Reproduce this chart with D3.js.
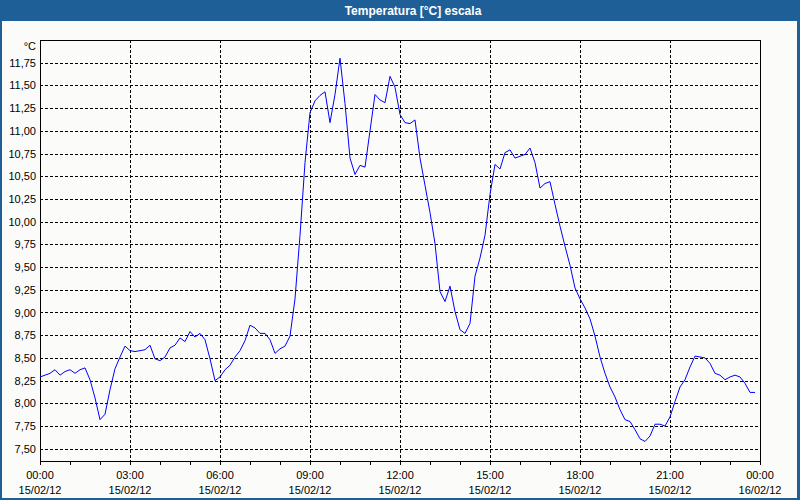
<!DOCTYPE html>
<html>
<head>
<meta charset="utf-8">
<script src="https://cdn.jsdelivr.net/npm/d3@7"></script>
<style>
  html, body { margin: 0; padding: 0; background: #ffffff; }
  svg { display: block; }
</style>
</head>
<body>
<svg id="chart" width="800" height="500"></svg>
<script>
// ---- data ----
const title = "Temperatura [°C] escala";
const unitLabel = "°C";
const startTime = "2012-02-15T00:00:00";
const endTime = "2012-02-16T00:00:00";
const stepMinutes = 10;
const temperatures = [
  8.29, 8.31, 8.33, 8.37, 8.31, 8.35, 8.37, 8.33, 8.37, 8.39,
  8.26, 8.06, 7.82, 7.88, 8.15, 8.38, 8.51, 8.63, 8.58, 8.57,
  8.58, 8.59, 8.64, 8.49, 8.47, 8.51, 8.61, 8.64, 8.72, 8.68,
  8.79, 8.73, 8.77, 8.70, 8.49, 8.25, 8.29, 8.37, 8.42, 8.51,
  8.58, 8.69, 8.86, 8.83, 8.77, 8.77, 8.70, 8.55, 8.60, 8.63,
  8.74, 9.15, 9.85, 10.65, 11.20, 11.33, 11.39, 11.43, 11.09, 11.40,
  11.80, 11.30, 10.70, 10.52, 10.62, 10.60, 11.00, 11.40, 11.34, 11.31,
  11.60, 11.48, 11.18, 11.09, 11.08, 11.12, 10.70, 10.40, 10.10, 9.76,
  9.23, 9.12, 9.29, 9.01, 8.81, 8.77, 8.88, 9.40, 9.60, 9.85,
  10.30, 10.63, 10.58, 10.76, 10.79, 10.70, 10.72, 10.74, 10.81, 10.65,
  10.37, 10.42, 10.44, 10.19, 9.95, 9.73, 9.52, 9.27, 9.15, 9.05,
  8.93, 8.74, 8.51, 8.33, 8.18, 8.07, 7.93, 7.82, 7.80, 7.71,
  7.61, 7.58, 7.64, 7.77, 7.77, 7.75, 7.85, 8.02, 8.18, 8.26,
  8.40, 8.52, 8.51, 8.50, 8.44, 8.33, 8.31, 8.26, 8.29, 8.31,
  8.29, 8.22, 8.12, 8.12
];
const yTicks = [7.50, 7.75, 8.00, 8.25, 8.50, 8.75, 9.00, 9.25, 9.50, 9.75,
                10.00, 10.25, 10.50, 10.75, 11.00, 11.25, 11.50, 11.75];
const yDomain = [7.365, 12.0];

// ---- layout ----
const W = 800, H = 500;
const plot = { left: 40, right: 760, top: 40, bottom: 461 };
const fontFamily = "'Liberation Sans', Arial, sans-serif";

const svg = d3.select("#chart");

const t0 = new Date(startTime), t1 = new Date(endTime);
const data = temperatures.map((v, i) => ({ t: new Date(t0.getTime() + i * stepMinutes * 60000), v }));

const x = d3.scaleTime().domain([t0, t1]).range([plot.left, plot.right]);
const y = d3.scaleLinear().domain(yDomain).range([plot.bottom, plot.top]);

// background
svg.append("rect").attr("x", 0).attr("y", 0).attr("width", W).attr("height", H).attr("fill", "#fbfcfa");

// title bar
svg.append("rect").attr("x", 0).attr("y", 0).attr("width", W).attr("height", 21).attr("fill", "#1e5f97");
svg.append("text").attr("x", 413).attr("y", 14.5)
  .attr("text-anchor", "middle").attr("fill", "#ffffff")
  .attr("font-family", fontFamily).attr("font-weight", "bold").attr("font-size", "12px")
  .text(title);

// outer border
svg.append("rect").attr("x", 1).attr("y", 1).attr("width", W - 2.5).attr("height", H - 2)
  .attr("fill", "none").attr("stroke", "#1e5f97").attr("stroke-width", 2);
svg.append("rect").attr("x", 797).attr("y", 0).attr("width", 3).attr("height", H).attr("fill", "#1e5f97");

const snap = v => Math.round(v) + 0.5;

// horizontal gridlines
svg.append("g").selectAll("line").data(yTicks).join("line")
  .attr("x1", plot.left).attr("x2", plot.right)
  .attr("y1", d => snap(y(d))).attr("y2", d => snap(y(d)))
  .attr("stroke", "#000").attr("stroke-width", 1)
  .attr("stroke-dasharray", "3,2").attr("shape-rendering", "crispEdges");

// vertical gridlines every 3h
const majorTimes = x.ticks(d3.timeHour.every(3));
svg.append("g").selectAll("line").data(majorTimes.filter(d => d > t0 && d < t1)).join("line")
  .attr("x1", d => snap(x(d))).attr("x2", d => snap(x(d)))
  .attr("y1", plot.top).attr("y2", plot.bottom)
  .attr("stroke", "#000").attr("stroke-width", 1)
  .attr("stroke-dasharray", "3,2").attr("shape-rendering", "crispEdges");

// x axis with hourly ticks and 3-hourly labels
const xAxis = d3.axisBottom(x).ticks(d3.timeHour.every(1)).tickSize(4).tickFormat("");
const gx = svg.append("g").attr("transform", `translate(0,${plot.bottom})`).call(xAxis);
gx.select(".domain").remove();
gx.selectAll(".tick line").attr("stroke", "#000").attr("shape-rendering", "crispEdges");

const fmtTime = d3.timeFormat("%H:%M"), fmtDate = d3.timeFormat("%d/%m/%y");
const lbl = svg.append("g").selectAll("g").data(majorTimes).join("g")
  .attr("transform", d => `translate(${x(d)},0)`);
lbl.append("text").attr("y", 479).attr("text-anchor", "middle")
  .attr("font-family", fontFamily).attr("font-size", "11px").attr("fill", "#000")
  .text(d => fmtTime(d));
lbl.append("text").attr("y", 493.5).attr("text-anchor", "middle")
  .attr("font-family", fontFamily).attr("font-size", "11px").attr("fill", "#000")
  .text(d => fmtDate(d));

// y axis labels
const fmtY = v => d3.format(".2f")(v).replace(".", ",");
const yAxis = d3.axisLeft(y).tickValues(yTicks).tickSize(0).tickPadding(4).tickFormat(fmtY);
const gy = svg.append("g").attr("transform", `translate(${plot.left},0)`).call(yAxis);
gy.select(".domain").remove();
gy.selectAll(".tick text").attr("font-family", fontFamily).attr("font-size", "11px").attr("fill", "#000");

svg.append("text").attr("x", 36).attr("y", 50).attr("text-anchor", "end")
  .attr("font-family", fontFamily).attr("font-size", "11px").attr("fill", "#000")
  .text(unitLabel);

// plot frame
svg.append("rect").attr("x", plot.left + 0.5).attr("y", plot.top + 0.5)
  .attr("width", plot.right - plot.left).attr("height", plot.bottom - plot.top)
  .attr("fill", "none").attr("stroke", "#000").attr("stroke-width", 1).attr("shape-rendering", "crispEdges");

// data line
const line = d3.line().x(d => x(d.t)).y(d => y(d.v));
svg.append("path").datum(data).attr("d", line)
  .attr("fill", "none").attr("stroke", "#0000ff").attr("stroke-width", 1);
</script>
</body>
</html>
